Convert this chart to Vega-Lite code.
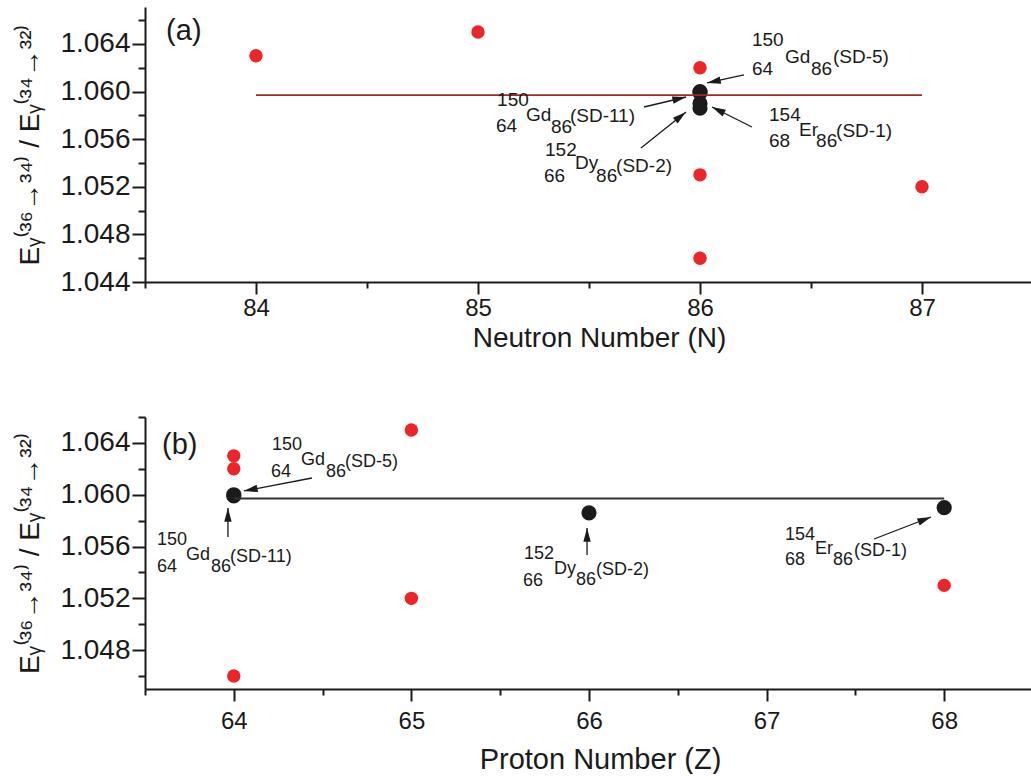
{
  "$schema": "https://vega.github.io/schema/vega-lite/v6.json",
  "padding": {"left": 16, "top": 7, "right": 0, "bottom": 0},
  "background": "white",
  "spacing": 64,
  "config": {
    "view": {"stroke": null},
    "font": "Liberation Sans",
    "axis": {
      "domainColor": "#1a1a1a", "domainWidth": 2, "tickColor": "#1a1a1a", "tickWidth": 2,
      "labelColor": "#1a1a1a", "titleColor": "#1a1a1a", "grid": false,
      "labelFont": "Liberation Sans", "titleFont": "Liberation Sans", "titleFontWeight": "normal",
      "labelOverlap": false, "labelFlush": false, "labelBound": false
    }
  },
  "datasets": {
    "pts": [
      {"nucleus": "148Gd", "N": 84, "Z": 64, "r": 1.063, "kind": "other"},
      {"nucleus": "150Tb", "N": 85, "Z": 65, "r": 1.065, "kind": "other"},
      {"nucleus": "150Gd", "N": 86, "Z": 64, "r": 1.062, "kind": "other"},
      {"nucleus": "154Er", "N": 86, "Z": 68, "r": 1.053, "kind": "other"},
      {"nucleus": "150Gd", "N": 86, "Z": 64, "r": 1.046, "kind": "other"},
      {"nucleus": "152Tb", "N": 87, "Z": 65, "r": 1.052, "kind": "other"},
      {"nucleus": "150Gd SD-5", "N": 86, "Z": 64, "r": 1.0600, "kind": "SD"},
      {"nucleus": "150Gd SD-11", "N": 86, "Z": 64, "r": 1.0599, "kind": "SD"},
      {"nucleus": "152Dy SD-2", "N": 86, "Z": 66, "r": 1.0586, "kind": "SD"},
      {"nucleus": "154Er SD-1", "N": 86, "Z": 68, "r": 1.0590, "kind": "SD"}
    ],
    "labels": [
      {"p": "a", "t": "150", "x": 86.234, "y": 1.06437},
      {"p": "a", "t": "64", "x": 86.234, "y": 1.06189},
      {"p": "a", "t": "Gd", "x": 86.383, "y": 1.0629},
      {"p": "a", "t": "86", "x": 86.5, "y": 1.06189},
      {"p": "a", "t": "(SD-5)", "x": 86.599, "y": 1.0629},
      {"p": "a", "t": "154", "x": 86.311, "y": 1.05803},
      {"p": "a", "t": "68", "x": 86.311, "y": 1.05584},
      {"p": "a", "t": "Er", "x": 86.446, "y": 1.05677},
      {"p": "a", "t": "86", "x": 86.523, "y": 1.05584},
      {"p": "a", "t": "(SD-1)", "x": 86.613, "y": 1.05668},
      {"p": "a", "t": "150", "x": 85.086, "y": 1.05929},
      {"p": "a", "t": "64", "x": 85.081, "y": 1.0571},
      {"p": "a", "t": "Gd", "x": 85.216, "y": 1.05803},
      {"p": "a", "t": "86", "x": 85.329, "y": 1.05702},
      {"p": "a", "t": "(SD-11)", "x": 85.414, "y": 1.05794},
      {"p": "a", "t": "152", "x": 85.302, "y": 1.05509},
      {"p": "a", "t": "66", "x": 85.297, "y": 1.0529},
      {"p": "a", "t": "Dy", "x": 85.437, "y": 1.054},
      {"p": "a", "t": "86", "x": 85.532, "y": 1.0529},
      {"p": "a", "t": "(SD-2)", "x": 85.622, "y": 1.05374},
      {"p": "b", "t": "150", "x": 64.215, "y": 1.06384},
      {"p": "b", "t": "64", "x": 64.209, "y": 1.06175},
      {"p": "b", "t": "Gd", "x": 64.378, "y": 1.06268},
      {"p": "b", "t": "86", "x": 64.519, "y": 1.06175},
      {"p": "b", "t": "(SD-5)", "x": 64.626, "y": 1.06253},
      {"p": "b", "t": "150", "x": 63.568, "y": 1.0565},
      {"p": "b", "t": "64", "x": 63.568, "y": 1.05442},
      {"p": "b", "t": "Gd", "x": 63.731, "y": 1.05535},
      {"p": "b", "t": "86", "x": 63.872, "y": 1.05442},
      {"p": "b", "t": "(SD-11)", "x": 63.979, "y": 1.05519},
      {"p": "b", "t": "152", "x": 65.634, "y": 1.05542},
      {"p": "b", "t": "66", "x": 65.628, "y": 1.05334},
      {"p": "b", "t": "Dy", "x": 65.803, "y": 1.05426},
      {"p": "b", "t": "86", "x": 65.927, "y": 1.05342},
      {"p": "b", "t": "(SD-2)", "x": 66.039, "y": 1.05419},
      {"p": "b", "t": "154", "x": 67.104, "y": 1.05689},
      {"p": "b", "t": "68", "x": 67.104, "y": 1.05496},
      {"p": "b", "t": "Er", "x": 67.273, "y": 1.05581},
      {"p": "b", "t": "86", "x": 67.374, "y": 1.05496},
      {"p": "b", "t": "(SD-1)", "x": 67.492, "y": 1.05565}
    ],
    "tags": [
      {"p": "a", "t": "(a)", "x": 83.595, "y": 1.06508},
      {"p": "b", "t": "(b)", "x": 63.596, "y": 1.06384}
    ],
    "arrows": [
      {"p": "a", "x": 86.198, "y": 1.06139, "x2": 86.032, "y2": 1.06072},
      {"p": "a", "x": 86.234, "y": 1.05702, "x2": 86.054, "y2": 1.0587},
      {"p": "a", "x": 85.748, "y": 1.0587, "x2": 85.937, "y2": 1.05954},
      {"p": "a", "x": 85.734, "y": 1.05526, "x2": 85.937, "y2": 1.05828},
      {"p": "b", "x": 64.44, "y": 1.06129, "x2": 64.057, "y2": 1.06029},
      {"p": "b", "x": 63.967, "y": 1.05674, "x2": 63.967, "y2": 1.05897},
      {"p": "b", "x": 65.989, "y": 1.05535, "x2": 65.989, "y2": 1.05743},
      {"p": "b", "x": 67.605, "y": 1.05658, "x2": 67.926, "y2": 1.05828}
    ],
    "means": [
      {"p": "a", "x": 84, "x2": 87, "y": 1.0597},
      {"p": "b", "x": 64, "x2": 68, "y": 1.0597}
    ]
  },
  "vconcat": [
    {
      "width": 888,
      "height": 275,
      "layer": [
        {
          "data": {"name": "pts"},
          "mark": {"type": "point", "filled": true, "opacity": 1, "shape": "circle"},
          "encoding": {
            "x": {"field": "N", "type": "quantitative", "scale": {"domain": [83.5, 87.5], "nice": false, "zero": false},
              "axis": {"values": [84, 85, 86, 87], "tickSize": 12, "labelFontSize": 24, "labelPadding": 2,
                "title": "Neutron Number (N)", "titleFontSize": 28, "titlePadding": 4, "titleX": 454}},
            "y": {"field": "r", "type": "quantitative", "scale": {"domain": [1.044, 1.0671], "nice": false, "zero": false},
              "axis": {"values": [1.044, 1.048, 1.052, 1.056, 1.06, 1.064], "format": ".3f", "tickSize": 13, "labelFontSize": 28, "labelPadding": 2,
                "minExtent": 80, "maxExtent": 80, "title": "Eᵧ⁽³⁶→³⁴⁾ / Eᵧ⁽³⁴→³²⁾", "titleFontSize": 28, "titlePadding": 21}},
            "color": {"field": "kind", "type": "nominal", "scale": {"domain": ["other", "SD"], "range": ["#ec2528", "#1b1b1b"]}, "legend": null},
            "size": {"field": "kind", "type": "nominal", "scale": {"domain": ["other", "SD"], "range": [180, 230]}, "legend": null}
          }
        },
        {
          "data": {"name": "means"},
          "transform": [{"filter": "datum.p == 'a'"}],
          "mark": {"type": "rule", "color": "#9e2b2b", "strokeWidth": 1.6},
          "encoding": {
            "x": {"field": "x", "type": "quantitative", "scale": {"domain": [83.5, 87.5], "nice": false, "zero": false},
              "axis": {"orient": "bottom", "values": [83.5, 84.5, 85.5, 86.5, 87.5], "tickSize": 6, "labels": false, "domain": false, "title": null}},
            "x2": {"field": "x2"},
            "y": {"field": "y", "type": "quantitative", "scale": {"domain": [1.044, 1.0671], "nice": false, "zero": false},
              "axis": {"orient": "left", "values": [1.046, 1.05, 1.054, 1.058, 1.062, 1.066], "tickSize": 7, "labels": false, "domain": false, "title": null}}
          }
        },
        {
          "data": {"name": "arrows"},
          "transform": [{"filter": "datum.p == 'a'"}],
          "mark": {"type": "rule", "color": "#1a1a1a", "strokeWidth": 1.3},
          "encoding": {
            "x": {"field": "x", "type": "quantitative", "scale": {"domain": [83.5, 87.5], "nice": false, "zero": false}, "axis": null},
            "y": {"field": "y", "type": "quantitative", "scale": {"domain": [1.044, 1.0671], "nice": false, "zero": false}, "axis": null},
            "x2": {"field": "x2"},
            "y2": {"field": "y2"}
          }
        },
        {
          "data": {"name": "arrows"},
          "transform": [
            {"filter": "datum.p == 'a'"},
            {"calculate": "atan2((datum.x2 - datum.x) * 222, (datum.y2 - datum.y) * 11905) * 180 / PI", "as": "heading"}
          ],
          "mark": {"type": "point", "filled": true, "opacity": 1, "color": "#1a1a1a", "shape": "M0,0 L0.65,2.4 L-0.65,2.4 Z", "size": 130},
          "encoding": {
            "x": {"field": "x2", "type": "quantitative", "scale": {"domain": [83.5, 87.5], "nice": false, "zero": false}, "axis": null},
            "y": {"field": "y2", "type": "quantitative", "scale": {"domain": [1.044, 1.0671], "nice": false, "zero": false}, "axis": null},
            "angle": {"field": "heading", "type": "quantitative", "scale": null}
          }
        },
        {
          "data": {"name": "labels"},
          "transform": [{"filter": "datum.p == 'a'"}],
          "mark": {"type": "text", "align": "left", "baseline": "middle", "fontSize": 19, "color": "#1a1a1a", "font": "Liberation Sans"},
          "encoding": {
            "x": {"field": "x", "type": "quantitative", "scale": {"domain": [83.5, 87.5], "nice": false, "zero": false}, "axis": null},
            "y": {"field": "y", "type": "quantitative", "scale": {"domain": [1.044, 1.0671], "nice": false, "zero": false}, "axis": null},
            "text": {"field": "t"}
          }
        },
        {
          "data": {"name": "tags"},
          "transform": [{"filter": "datum.p == 'a'"}],
          "mark": {"type": "text", "align": "left", "baseline": "middle", "fontSize": 29, "color": "#1a1a1a", "font": "Liberation Sans"},
          "encoding": {
            "x": {"field": "x", "type": "quantitative", "scale": {"domain": [83.5, 87.5], "nice": false, "zero": false}, "axis": null},
            "y": {"field": "y", "type": "quantitative", "scale": {"domain": [1.044, 1.0671], "nice": false, "zero": false}, "axis": null},
            "text": {"field": "t"}
          }
        }
      ],
      "resolve": {"axis": {"x": "independent", "y": "independent"}}
    },
    {
      "width": 888,
      "height": 272,
      "layer": [
        {
          "data": {"name": "pts"},
          "mark": {"type": "point", "filled": true, "opacity": 1, "shape": "circle"},
          "encoding": {
            "x": {"field": "Z", "type": "quantitative", "scale": {"domain": [63.5, 68.5], "nice": false, "zero": false},
              "axis": {"values": [64, 65, 66, 67, 68], "tickSize": 12, "labelFontSize": 24, "labelPadding": 8,
                "title": "Proton Number (Z)", "titleFontSize": 29, "titlePadding": 12, "titleX": 455}},
            "y": {"field": "r", "type": "quantitative", "scale": {"domain": [1.045, 1.066], "nice": false, "zero": false},
              "axis": {"values": [1.048, 1.052, 1.056, 1.06, 1.064], "format": ".3f", "tickSize": 13, "labelFontSize": 28, "labelPadding": 2,
                "minExtent": 80, "maxExtent": 80, "title": "Eᵧ⁽³⁶→³⁴⁾ / Eᵧ⁽³⁴→³²⁾", "titleFontSize": 28, "titlePadding": 21}},
            "color": {"field": "kind", "type": "nominal", "scale": {"domain": ["other", "SD"], "range": ["#ec2528", "#1b1b1b"]}, "legend": null},
            "size": {"field": "kind", "type": "nominal", "scale": {"domain": ["other", "SD"], "range": [170, 200]}, "legend": null}
          }
        },
        {
          "data": {"name": "means"},
          "transform": [{"filter": "datum.p == 'b'"}],
          "mark": {"type": "rule", "color": "#333333", "strokeWidth": 2},
          "encoding": {
            "x": {"field": "x", "type": "quantitative", "scale": {"domain": [63.5, 68.5], "nice": false, "zero": false},
              "axis": {"orient": "bottom", "values": [63.5, 64.5, 65.5, 66.5, 67.5, 68.5], "tickSize": 6, "labels": false, "domain": false, "title": null}},
            "x2": {"field": "x2"},
            "y": {"field": "y", "type": "quantitative", "scale": {"domain": [1.045, 1.066], "nice": false, "zero": false},
              "axis": {"orient": "left", "values": [1.046, 1.05, 1.054, 1.058, 1.062, 1.066], "tickSize": 7, "labels": false, "domain": false, "title": null}}
          }
        },
        {
          "data": {"name": "arrows"},
          "transform": [{"filter": "datum.p == 'b'"}],
          "mark": {"type": "rule", "color": "#1a1a1a", "strokeWidth": 1.3},
          "encoding": {
            "x": {"field": "x", "type": "quantitative", "scale": {"domain": [63.5, 68.5], "nice": false, "zero": false}, "axis": null},
            "y": {"field": "y", "type": "quantitative", "scale": {"domain": [1.045, 1.066], "nice": false, "zero": false}, "axis": null},
            "x2": {"field": "x2"},
            "y2": {"field": "y2"}
          }
        },
        {
          "data": {"name": "arrows"},
          "transform": [
            {"filter": "datum.p == 'b'"},
            {"calculate": "atan2((datum.x2 - datum.x) * 177.6, (datum.y2 - datum.y) * 12952) * 180 / PI", "as": "heading"}
          ],
          "mark": {"type": "point", "filled": true, "opacity": 1, "color": "#1a1a1a", "shape": "M0,0 L0.65,2.4 L-0.65,2.4 Z", "size": 130},
          "encoding": {
            "x": {"field": "x2", "type": "quantitative", "scale": {"domain": [63.5, 68.5], "nice": false, "zero": false}, "axis": null},
            "y": {"field": "y2", "type": "quantitative", "scale": {"domain": [1.045, 1.066], "nice": false, "zero": false}, "axis": null},
            "angle": {"field": "heading", "type": "quantitative", "scale": null}
          }
        },
        {
          "data": {"name": "labels"},
          "transform": [{"filter": "datum.p == 'b'"}],
          "mark": {"type": "text", "align": "left", "baseline": "middle", "fontSize": 18, "color": "#1a1a1a", "font": "Liberation Sans"},
          "encoding": {
            "x": {"field": "x", "type": "quantitative", "scale": {"domain": [63.5, 68.5], "nice": false, "zero": false}, "axis": null},
            "y": {"field": "y", "type": "quantitative", "scale": {"domain": [1.045, 1.066], "nice": false, "zero": false}, "axis": null},
            "text": {"field": "t"}
          }
        },
        {
          "data": {"name": "tags"},
          "transform": [{"filter": "datum.p == 'b'"}],
          "mark": {"type": "text", "align": "left", "baseline": "middle", "fontSize": 29, "color": "#1a1a1a", "font": "Liberation Sans"},
          "encoding": {
            "x": {"field": "x", "type": "quantitative", "scale": {"domain": [63.5, 68.5], "nice": false, "zero": false}, "axis": null},
            "y": {"field": "y", "type": "quantitative", "scale": {"domain": [1.045, 1.066], "nice": false, "zero": false}, "axis": null},
            "text": {"field": "t"}
          }
        }
      ],
      "resolve": {"axis": {"x": "independent", "y": "independent"}}
    }
  ]
}
